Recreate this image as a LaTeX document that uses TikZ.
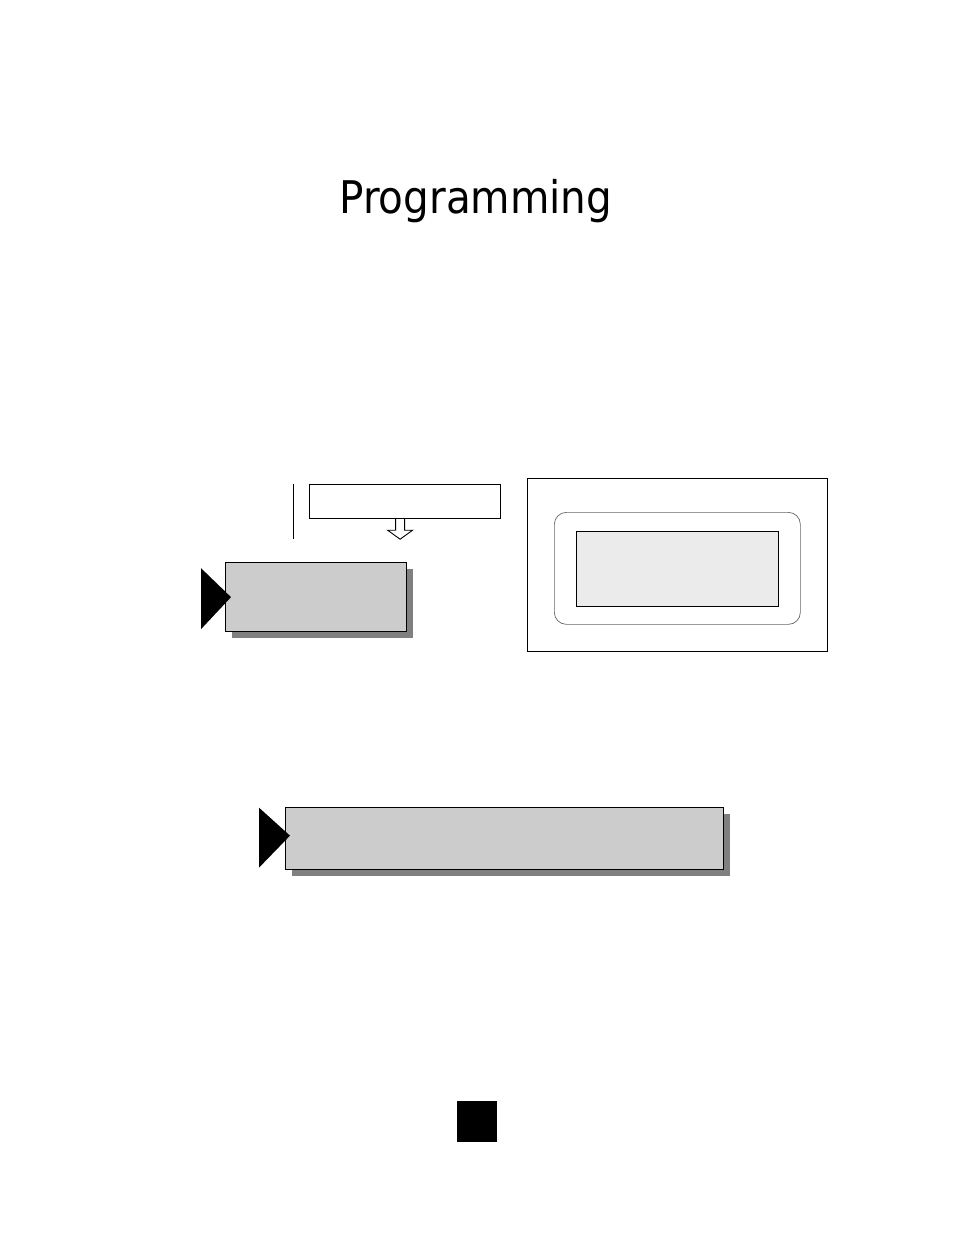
\documentclass[tikz,border=0pt]{standalone}
\usepackage{fontspec}
\setmainfont{DejaVu Sans}
\newfontfamily\titlefont{DejaVu Sans Condensed}
\definecolor{boxGray}{RGB}{204,204,204}
\definecolor{shadowGray}{RGB}{128,128,128}
\definecolor{lcdGray}{RGB}{235,235,235}
\definecolor{bezelGray}{RGB}{100,100,100}
\usepackage{tikz}
\usetikzlibrary{shapes,positioning,calc,shadows,arrows.meta}

\begin{document}
\begin{tikzpicture}[x=1pt,y=-1pt,
    stepbox/.style={draw,line width=1.3pt,fill=boxGray,inner sep=0pt,anchor=north west,
      drop shadow={shadow xshift=6pt,shadow yshift=-6pt,fill=shadowGray,opacity=1}},
    keybox/.style={draw,line width=1.2pt,fill=white,inner sep=0pt,anchor=north west},
    pointer/.style={fill=black}]
    \useasboundingbox (0,0) rectangle (954,1235);

    % Title
    \node[font=\titlefont\fontsize{45}{54}\selectfont] (title) at (476,201) {Programming};

    % Key strip and hollow arrow
    \node[keybox,minimum width=191pt,minimum height=34pt] (key) at (309,484) {};
    \coordinate (bar top) at (293,484);
    \coordinate (bar bottom) at (293,539);
    \draw[line width=0.9pt] (bar top) -- (bar bottom);
    \draw[fill=white,line width=0.9pt]
        ($(key.south)+(-9.5,0)$) -- ++(0,11) -- ++(-8,0) -- ++(12.5,9)
        -- ++(12.5,-9) -- ++(-8,0) -- ++(0,-11);

    % First menu step
    \node[stepbox,minimum width=181pt,minimum height=69pt] (menu) at (225,562) {};
    \fill[pointer] ($(menu.west)+(-24,-29)$) -- ($(menu.west)+(6,0)$)
        -- ($(menu.west)+(-24,32)$) -- cycle;

    % Handset display
    \node[draw,line width=1.2pt,inner sep=0pt,anchor=north west,
        minimum width=300pt,minimum height=173pt] (frame) at (527,478) {};
    \node[draw=bezelGray,line width=0.7pt,rounded corners=12pt,inner sep=0pt,anchor=north west,
        minimum width=246pt,minimum height=112pt] (bezel) at (554,512) {};
    \node[draw,line width=1.2pt,fill=lcdGray,inner sep=0pt,anchor=north west,
        minimum width=202pt,minimum height=75pt] (lcd) at (576,531) {};

    % Second menu step
    \node[stepbox,minimum width=438pt,minimum height=62pt] (entry) at (285,807) {};
    \fill[pointer] ($(entry.west)+(-26,-31)$) -- ($(entry.west)+(5,-3)$)
        -- ($(entry.west)+(-26,29)$) -- cycle;

    % Page marker
    \node[fill=black,inner sep=0pt,anchor=north west,
        minimum width=40pt,minimum height=41pt] (page) at (457,1101) {};
\end{tikzpicture}
\end{document}
